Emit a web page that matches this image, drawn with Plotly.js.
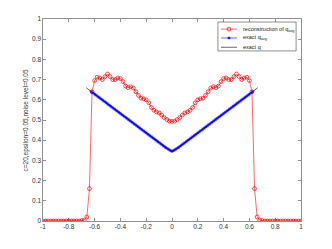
<!DOCTYPE html>
<html>
<head>
<meta charset="utf-8">
<script src="https://cdn.plot.ly/plotly-3.0.1.min.js"></script>
<style>html,body{margin:0;padding:0;background:#fff;}#chart{width:332px;height:249px;}</style>
</head>
<body>
<div id="chart"></div>
<script>
// reconstruction of q_avg, sampled at x = -1, -0.98, ..., 1
var reconStart = -1, reconStep = 0.02;
var reconY = [
  0,0,0,0,0,0,0,0,0,0,
  0,0,0,0,0,0.002,0.005,0.02,0.16,0.64,
  0.695,0.712,0.708,0.70,0.715,0.728,0.715,0.70,0.70,0.708,
  0.705,0.69,0.668,0.66,0.665,0.658,0.64,0.622,0.608,0.605,
  0.60,0.585,0.562,0.548,0.54,0.535,0.525,0.512,0.502,0.494,
  0.493,
  0.494,0.502,0.512,0.525,0.535,0.54,0.548,0.562,0.585,0.60,
  0.605,0.608,0.622,0.64,0.658,0.665,0.66,0.668,0.69,0.705,
  0.708,0.70,0.70,0.715,0.728,0.715,0.70,0.708,0.712,0.695,
  0.64,0.16,0.02,0.005,0.002,0,0,0,0,0,
  0,0,0,0,0,0,0,0,0,0
];
// exact q_avg, sampled at x = -0.625, -0.6125, ..., 0.625
var avgStart = -0.625, avgStep = 0.0125;
var avgY = [
  0.640,0.634,0.628,0.622,0.616,0.610,0.604,0.598,0.592,0.586,
  0.580,0.574,0.568,0.562,0.556,0.550,0.544,0.538,0.532,0.526,
  0.520,0.514,0.508,0.502,0.496,0.490,0.484,0.478,0.472,0.466,
  0.460,0.454,0.448,0.442,0.436,0.430,0.424,0.418,0.412,0.406,
  0.400,0.394,0.388,0.382,0.376,0.370,0.364,0.359,0.354,0.349,
  0.346,
  0.349,0.354,0.359,0.364,0.370,0.376,0.382,0.388,0.394,0.400,
  0.406,0.412,0.418,0.424,0.430,0.436,0.442,0.448,0.454,0.460,
  0.466,0.472,0.478,0.484,0.490,0.496,0.502,0.508,0.514,0.520,
  0.526,0.532,0.538,0.544,0.550,0.556,0.562,0.568,0.574,0.580,
  0.586,0.592,0.598,0.604,0.610,0.616,0.622,0.628,0.634,0.640
];
// exact q
var exactX = [-0.665, 0, 0.665];
var exactY = [0.66, 0.34, 0.66];

var seriesNames = ['reconstruction of q<sub>avg</sub>', 'exact q<sub>avg</sub>', 'exact q'];
var xTicks = [-1,-0.8,-0.6,-0.4,-0.2,0,0.2,0.4,0.6,0.8,1];
var xTickText = ['-1','-0.8','-0.6','-0.4','-0.2','0','0.2','0.4','0.6','0.8','1'];
var yTicks = [0,0.1,0.2,0.3,0.4,0.5,0.6,0.7,0.8,0.9,1];
var yTickText = ['0','0.1','0.2','0.3','0.4','0.5','0.6','0.7','0.8','0.9','1'];
var yTitle = 'c=20,epsilon=0.05,noise level=0.05';

function grid(start, step, n){ var a=[]; for(var i=0;i<n;i++){ a.push(+(start+step*i).toFixed(6)); } return a; }
var reconX = grid(reconStart, reconStep, reconY.length);
var avgX = grid(avgStart, avgStep, avgY.length);

var FONT = 'Liberation Sans, Arial, sans-serif';
var redLine = {color:'#ff0000', width:0.6};
var redMarker = {symbol:'circle-open', size:3.8, color:'#ff0000', line:{width:0.7, color:'#ff0000'}};
var blueLine = {color:'#0000ff', width:0.6};
var blueMarker = {symbol:'asterisk-open', size:2.6, color:'#0000ff', line:{width:0.7, color:'#0000ff'}};
var blackLine = {color:'#000000', width:0.6};

// legend layout (paper fractions of the plot area)
var lgBox = {x0:0.678, x1:0.981, y0:0.842, y1:0.985};
var lgRows = [0.950, 0.906, 0.860];
var lgLine = [0.690, 0.752];
var lgText = 0.767;

var traces = [
  {x: exactX, y: exactY, mode:'lines', line:blackLine, showlegend:false},
  {x: reconX, y: reconY, mode:'lines+markers', line:redLine, marker:redMarker, showlegend:false},
  {x: avgX, y: avgY, mode:'lines+markers', line:blueLine, marker:blueMarker, showlegend:false}
];
// legend samples on an invisible overlay axis matching the plot area
var lgStyles = [[redLine, redMarker],[blueLine, blueMarker],[blackLine, null]];
for (var k=0;k<3;k++){
  traces.push({x:lgLine, y:[lgRows[k],lgRows[k]], xaxis:'x2', yaxis:'y2', mode:'lines',
    line:lgStyles[k][0], showlegend:false, hoverinfo:'skip'});
  if (lgStyles[k][1]) {
    traces.push({x:[(lgLine[0]+lgLine[1])/2], y:[lgRows[k]], xaxis:'x2', yaxis:'y2', mode:'markers',
      marker:lgStyles[k][1], showlegend:false, hoverinfo:'skip'});
  }
}

var axisCommon = {
  showline:true, linecolor:'#444', linewidth:0.6, mirror:'ticks',
  ticks:'inside', ticklen:3, tickwidth:0.6, tickcolor:'#444',
  showgrid:false, zeroline:false,
  tickfont:{family:FONT, size:6.5, color:'#333'}
};

var annotations = [
  {xref:'paper', yref:'paper', x:-0.064, y:0.5, text:yTitle, textangle:-90, showarrow:false,
   xanchor:'center', yanchor:'middle', font:{family:FONT, size:6.5, color:'#333'}}
];
for (var j=0;j<3;j++){
  annotations.push({xref:'paper', yref:'paper', x:lgText, y:lgRows[j], text:seriesNames[j], showarrow:false,
    xanchor:'left', yanchor:'middle', font:{family:FONT, size:5.5, color:'#222'}});
}

var layout = {
  width:332, height:249,
  margin:{l:43, r:31, t:19, b:28, pad:0},
  paper_bgcolor:'#ffffff', plot_bgcolor:'#ffffff',
  showlegend:false,
  xaxis: Object.assign({}, axisCommon, {range:[-1,1], tickvals:xTicks, ticktext:xTickText}),
  yaxis: Object.assign({}, axisCommon, {range:[0,1], tickvals:yTicks, ticktext:yTickText}),
  xaxis2: {overlaying:'x', range:[0,1], visible:false, fixedrange:true},
  yaxis2: {overlaying:'y', range:[0,1], visible:false, fixedrange:true},
  shapes:[{type:'rect', xref:'paper', yref:'paper', x0:lgBox.x0, x1:lgBox.x1, y0:lgBox.y0, y1:lgBox.y1,
    line:{color:'#444', width:0.6}, fillcolor:'#ffffff', layer:'below'}],
  annotations: annotations
};

Plotly.newPlot('chart', traces, layout, {staticPlot:true, displayModeBar:false});
</script>
</body>
</html>
